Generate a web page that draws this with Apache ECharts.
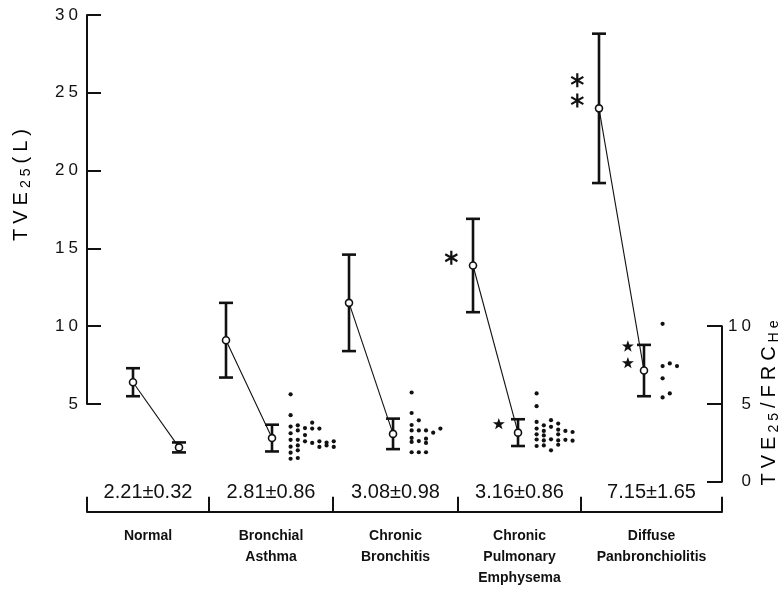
<!DOCTYPE html>
<html><head><meta charset="utf-8">
<script src="https://cdn.jsdelivr.net/npm/echarts@6/dist/echarts.min.js"></script>
<style>html,body{margin:0;padding:0;background:#fff}#c{width:781px;height:592px}</style>
</head><body><div id="c"></div>
<script>
// ---------------- data ----------------
const categories = ['Normal', 'Bronchial\nAsthma', 'Chronic\nBronchitis', 'Chronic\nPulmonary\nEmphysema', 'Diffuse\nPanbronchiolitis'];
const preMean = [6.4, 9.1, 11.5, 13.9, 24.0];      // TVE25 (L)
const preSD   = [0.9, 2.4, 3.1, 3.0, 4.8];
const ratioMean = [2.21, 2.81, 3.08, 3.16, 7.15];  // TVE25/FRC_He
const ratioSD   = [0.32, 0.86, 0.98, 0.86, 1.65];
const leftTicks = [5, 10, 15, 20, 25, 30];
const rightTicks = [0, 5, 10];
// individual TVE25/FRC_He values: [swarm column, value]
const dotsNormal = [];
const dotsBA = [[0,5.62],[0,4.28],[0,3.55],[0,3.12],[0,2.7],[0,2.26],[0,1.87],[0,1.48],
  [1,3.63],[1,3.3],[1,2.7],[1,2.34],[1,2.02],[1,1.53],
  [2,3.45],[2,3.0],[2,2.6],[3,3.8],[3,3.42],[3,2.5],[4,3.42],[4,2.6],[4,2.24],
  [5,2.52],[5,2.34],[6,2.6],[6,2.24]];
const dotsCB = [[0,5.74],[0,4.42],[0,3.65],[0,3.3],[0,2.82],[0,2.56],[0,1.9],
  [1,3.95],[1,3.3],[1,2.62],[1,1.9],[2,3.3],[2,2.77],[2,2.5],[2,1.9],[3,3.16],[4,3.42]];
const dotsCPE = [[0,5.68],[0,4.86],[0,3.85],[0,3.42],[0,3.05],[0,2.72],[0,2.3],
  [1,3.63],[1,3.27],[1,2.98],[1,2.66],[1,2.34],[2,3.96],[2,3.53],[2,2.73],[2,2.02],
  [3,3.74],[3,3.35],[3,3.05],[3,2.66],[3,2.38],[4,3.27],[4,2.7],[5,3.2],[5,2.64]];
const dotsDPB = [[0,10.15],[0,7.44],[0,6.65],[0,5.42],[1,7.61],[1,5.68],[2,7.44]];
const dotGroups = [dotsNormal, dotsBA, dotsCB, dotsCPE, dotsDPB];
// significance marks: [group, value]
const asteriskMarks = [[3, 14.4], [4, 25.8], [4, 24.5]];
const starMarks = [[3, 3.74], [4, 8.73], [4, 7.66]];

// ---------------- layout ----------------
const groupEdges = [0, 0.984, 1.984, 2.992, 3.984, 5.121];
const xPre  = [0.371, 1.121, 2.113, 3.113, 4.129];
const xPost = [0.742, 1.492, 2.468, 3.476, 4.492];
const centers = groupEdges.slice(0, -1).map((e, i) => (e + groupEdges[i + 1]) / 2);
const XMAX = groupEdges[groupEdges.length - 1];
const FONT = "'Liberation Sans', Arial, sans-serif";
const INK = '#111';

function spaced(str) {
  return String(str).split('').map((c, i) => '{' + (i ? 'g' : 'd') + '|' + c + '}').join('');
}
const digitRich = {
  d: { fontSize: 17, fontFamily: FONT, color: INK },
  g: { fontSize: 17, fontFamily: FONT, color: INK, padding: [0, 0, 0, 4] }
};
function titleText(parts) { // parts: [[text, 'b'|'s'], ...]
  let out = '', first = true;
  parts.forEach(([t, k]) => {
    t.split('').forEach(c => { out += '{' + k + (first ? '0' : '') + '|' + c + '}'; first = false; });
  });
  return out;
}
const titleRich = {
  b0: { fontSize: 20, fontFamily: FONT, color: INK, lineHeight: 24, verticalAlign: 'middle' },
  b:  { fontSize: 20, fontFamily: FONT, color: INK, lineHeight: 24, verticalAlign: 'middle', padding: [0, 0, 0, 5] },
  s0: { fontSize: 14, fontFamily: FONT, color: INK, verticalAlign: 'bottom' },
  s:  { fontSize: 14, fontFamily: FONT, color: INK, verticalAlign: 'bottom', padding: [0, 0, 0, 4] }
};

function barRender(params, api) {
  const x = api.value(0), lo = api.value(1), hi = api.value(2);
  const a = api.coord([x, lo]), b = api.coord([x, hi]);
  const w = 7;
  const st = { stroke: INK, lineWidth: 2.6 };
  return { type: 'group', children: [
    { type: 'line', shape: { x1: a[0], y1: a[1], x2: b[0], y2: b[1] }, style: st },
    { type: 'line', shape: { x1: a[0] - w, y1: a[1], x2: a[0] + w, y2: a[1] }, style: st },
    { type: 'line', shape: { x1: b[0] - w, y1: b[1], x2: b[0] + w, y2: b[1] }, style: st }
  ]};
}
function linkRender(params, api) {
  const a = api.coord([api.value(0), api.value(1)]);
  const b = api.coord([api.value(2), api.value(3)]);
  return { type: 'line', shape: { x1: a[0], y1: a[1], x2: b[0], y2: b[1] }, style: { stroke: INK, lineWidth: 1.1 } };
}

const STAR = 'path://M0,-10L2.35,-3.24L9.51,-3.09L3.8,1.24L5.88,8.09L0,4L-5.88,8.09L-3.8,1.24L-9.51,-3.09L-2.35,-3.24Z';
const ASTER = 'path://M0,-10L0,10M-8.66,-5L8.66,5M-8.66,5L8.66,-5';

const dotData = [];
dotGroups.forEach((g, gi) => g.forEach(([col, v]) => dotData.push([xPost[gi] + 0.15 + col * 0.058, v])));

const option = {
  animation: false,
  backgroundColor: '#fff',
  grid: [
    { left: 87, right: 59, top: 15, height: 389, outerBoundsMode: 'none' },
    { left: 87, right: 59, top: 326.2, height: 155.6, outerBoundsMode: 'none' }
  ],
  xAxis: [
    { gridIndex: 0, type: 'value', min: 0, max: XMAX, show: false },
    { gridIndex: 1, type: 'value', min: 0, max: XMAX, position: 'bottom', offset: 30,
      axisLine: { show: true, onZero: false, lineStyle: { color: INK, width: 2 } },
      axisTick: { show: true, inside: true, length: 15, customValues: groupEdges, lineStyle: { color: INK, width: 2 } },
      axisLabel: { show: true, customValues: centers, margin: 14, fontFamily: FONT, fontSize: 14, fontWeight: 'bold',
        lineHeight: 21, color: INK,
        formatter: v => { const i = centers.findIndex(c => Math.abs(c - v) < 1e-6); return i >= 0 ? categories[i] : ''; } },
      splitLine: { show: false } },
    { gridIndex: 1, type: 'value', min: 0, max: XMAX, position: 'bottom', offset: 0,
      axisLine: { show: false, onZero: false }, axisTick: { show: false }, splitLine: { show: false },
      axisLabel: { show: true, customValues: centers, margin: 1, fontFamily: FONT, fontSize: 20, color: INK,
        formatter: v => { const i = centers.findIndex(c => Math.abs(c - v) < 1e-6);
          return i >= 0 ? ratioMean[i].toFixed(2) + '\u00b1' + ratioSD[i].toFixed(2) : ''; } } }
  ],
  yAxis: [
    { gridIndex: 0, type: 'value', min: 5, max: 30, interval: 5, position: 'left',
      axisLine: { show: true, onZero: false, lineStyle: { color: INK, width: 2 } },
      axisTick: { show: true, inside: true, length: 14, customValues: leftTicks, lineStyle: { color: INK, width: 2 } },
      axisLabel: { customValues: leftTicks, margin: 9, formatter: v => spaced(v), rich: digitRich },
      splitLine: { show: false } },
    { gridIndex: 1, type: 'value', min: 0, max: 10, interval: 5, position: 'right',
      axisLine: { show: true, onZero: false, lineStyle: { color: INK, width: 2 } },
      axisTick: { show: true, inside: true, length: 15, customValues: rightTicks, lineStyle: { color: INK, width: 2 } },
      axisLabel: { customValues: rightTicks, margin: 29, align: 'right', formatter: v => spaced(v), rich: digitRich },
      splitLine: { show: false } }
  ],
  graphic: [
    { type: 'text', x: 21, y: 185, rotation: Math.PI / 2, silent: true,
      style: { text: titleText([['TVE', 'b'], ['25', 's'], ['(L)', 'b']]), rich: titleRich, align: 'center', verticalAlign: 'middle' } },
    { type: 'text', x: 769, y: 403, rotation: Math.PI / 2, silent: true,
      style: { text: titleText([['TVE', 'b'], ['25', 's'], ['/FRC', 'b'], ['He', 's']]), rich: titleRich, align: 'center', verticalAlign: 'middle' } }
  ],
  series: [
    { type: 'custom', name: 'links', xAxisIndex: 0, yAxisIndex: 0, silent: true, clip: false, z: 2,
      renderItem: linkRender,
      data: preMean.map((m, i) => [xPre[i], m, xPost[i], ratioMean[i]]) },
    { type: 'custom', name: 'preBars', xAxisIndex: 0, yAxisIndex: 0, silent: true, clip: false, z: 3,
      renderItem: barRender,
      data: preMean.map((m, i) => [xPre[i], m - preSD[i], m + preSD[i]]) },
    { type: 'custom', name: 'postBars', xAxisIndex: 1, yAxisIndex: 1, silent: true, clip: false, z: 3,
      renderItem: barRender,
      data: ratioMean.map((m, i) => [xPost[i], m - ratioSD[i], m + ratioSD[i]]) },
    { type: 'scatter', name: 'pre', xAxisIndex: 0, yAxisIndex: 0, silent: true, clip: false, z: 5,
      symbol: 'circle', symbolSize: 7, itemStyle: { color: '#fff', borderColor: INK, borderWidth: 1.6, opacity: 1 },
      data: preMean.map((m, i) => [xPre[i], m]) },
    { type: 'scatter', name: 'post', xAxisIndex: 1, yAxisIndex: 1, silent: true, clip: false, z: 5,
      symbol: 'circle', symbolSize: 7, itemStyle: { color: '#fff', borderColor: INK, borderWidth: 1.6, opacity: 1 },
      data: ratioMean.map((m, i) => [xPost[i], m]) },
    { type: 'scatter', name: 'individual', xAxisIndex: 1, yAxisIndex: 1, silent: true, clip: false, z: 4,
      symbol: 'circle', symbolSize: 4.2, itemStyle: { color: INK, opacity: 1 },
      data: dotData },
    { type: 'scatter', name: 'asterisk', xAxisIndex: 0, yAxisIndex: 0, silent: true, clip: false, z: 4,
      symbol: ASTER, symbolSize: 14, symbolKeepAspect: true,
      itemStyle: { color: 'transparent', borderColor: INK, borderWidth: 2.2, opacity: 1 },
      data: asteriskMarks.map(([g, v]) => [xPre[g] - 0.175, v]) },
    { type: 'scatter', name: 'star', xAxisIndex: 1, yAxisIndex: 1, silent: true, clip: false, z: 4,
      symbol: STAR, symbolSize: 12, symbolKeepAspect: true, itemStyle: { color: INK, opacity: 1 },
      data: starMarks.map(([g, v]) => [xPost[g] - (g === 3 ? 0.155 : 0.13), v]) }
  ]
};
const chart = echarts.init(document.getElementById('c'), null, { renderer: 'canvas' });
chart.setOption(option);
</script></body></html>
